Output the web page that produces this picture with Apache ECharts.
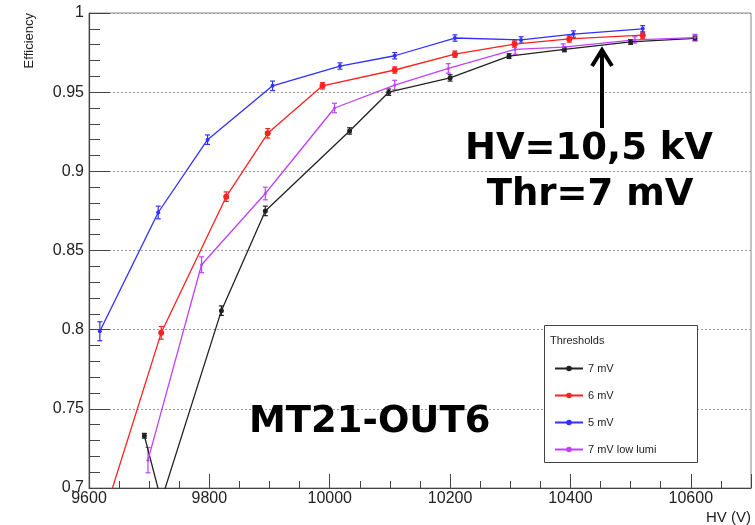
<!DOCTYPE html>
<html>
<head>
<meta charset="utf-8">
<script src="https://cdn.jsdelivr.net/npm/echarts@6/dist/echarts.min.js"></script>
<style>html,body{margin:0;padding:0;background:#fff}#c{width:755px;height:525px}</style>
</head>
<body>
<div id="c"></div>
<script>
// ---- data ----
var seriesNames = ['7 mV', '6 mV', '5 mV', '7 mV low lumi'];
var seriesColors = ['#222222', '#ff2020', '#3030ff', '#c040ff'];

var hv7    = [9692, 9720, 9820, 9893, 10033, 10098, 10200, 10298, 10390, 10500, 10607];
var eff7   = [0.733, 0.692, 0.812, 0.875, 0.9255, 0.950, 0.959, 0.9728, 0.977, 0.9817, 0.984];
var err7   = [0.0015, 0.002, 0.003, 0.003, 0.002, 0.002, 0.002, 0.0015, 0.0015, 0.0015, 0.0015];

var hv6    = [9620, 9720, 9828, 9897, 9988, 10108, 10208, 10307, 10398, 10520];
var eff6   = [0.677, 0.798, 0.884, 0.924, 0.954, 0.964, 0.974, 0.9804, 0.9836, 0.986];
var err6   = [0.004, 0.004, 0.003, 0.003, 0.002, 0.002, 0.002, 0.002, 0.002, 0.002];

var hv5    = [9618, 9715, 9797, 9905, 10017, 10108, 10208, 10318, 10405, 10520];
var eff5   = [0.799, 0.874, 0.920, 0.954, 0.9665, 0.973, 0.9842, 0.983, 0.9867, 0.990];
var err5   = [0.006, 0.004, 0.003, 0.003, 0.002, 0.002, 0.002, 0.002, 0.002, 0.002];

var hv7low  = [9698, 9787, 9893, 10008, 10108, 10197, 10308, 10388, 10507, 10607];
var eff7low = [0.7176, 0.841, 0.886, 0.940, 0.9545, 0.965, 0.977, 0.9785, 0.983, 0.9845];
var err7low = [0.008, 0.005, 0.004, 0.003, 0.003, 0.003, 0.003, 0.002, 0.002, 0.002];

var xMin = 9600, xMax = 10700, xStep = 200;
var yMin = 0.7, yMax = 1, yStep = 0.05;

var legendTitle = 'Thresholds';
var annotation1 = 'HV=10,5 kV';
var annotation2 = 'Thr=7 mV';
var chamberLabel = 'MT21-OUT6';
var xName = 'HV (V)';
var yName = 'Efficiency';

// ---- build ----
var allX = [hv7, hv6, hv5, hv7low];
var allY = [eff7, eff6, eff5, eff7low];
var allE = [err7, err6, err5, err7low];
var symSizes = [5, 6, 4, 3];
var SANS = '"Liberation Sans", Arial, Helvetica, sans-serif';
var BOLD = '"DejaVu Sans", Verdana, sans-serif';

function zip(xs, ys) { return xs.map(function (x, i) { return [x, ys[i]]; }); }
function zipErr(xs, ys, es) { return xs.map(function (x, i) { return [x, ys[i], es[i]]; }); }

var series = [];
seriesNames.forEach(function (name, k) {
  series.push({
    name: name,
    type: 'line',
    data: zip(allX[k], allY[k]),
    clip: true,
    symbol: 'circle',
    symbolSize: symSizes[k],
    showAllSymbol: true,
    lineStyle: { color: seriesColors[k], width: 1.3 },
    itemStyle: { color: seriesColors[k] },
    z: 3
  });
  series.push({
    name: name + ' err',
    type: 'custom',
    clip: true,
    data: zipErr(allX[k], allY[k], allE[k]),
    renderItem: function (params, api) {
      var x = api.value(0), y = api.value(1), e = api.value(2);
      var top = api.coord([x, y + e]);
      var bot = api.coord([x, y - e]);
      var c = seriesColors[k];
      var w = 2.5;
      return {
        type: 'group',
        children: [
          { type: 'line', shape: { x1: top[0], y1: top[1], x2: bot[0], y2: bot[1] }, style: { stroke: c, lineWidth: 1.2 } },
          { type: 'line', shape: { x1: top[0] - w, y1: top[1], x2: top[0] + w, y2: top[1] }, style: { stroke: c, lineWidth: 1.2 } },
          { type: 'line', shape: { x1: bot[0] - w, y1: bot[1], x2: bot[0] + w, y2: bot[1] }, style: { stroke: c, lineWidth: 1.2 } }
        ]
      };
    },
    z: 3
  });
});

var chart = echarts.init(document.getElementById('c'), null, { renderer: 'canvas' });
chart.setOption({
  animation: false,
  backgroundColor: '#ffffff',
  grid: { left: 89, top: 13, right: 4, bottom: 37, show: true, borderColor: '#888', borderWidth: 1 },
  xAxis: {
    type: 'value', min: xMin, max: xMax, interval: xStep,
    axisLine: { lineStyle: { color: '#444', width: 1.2 } },
    axisTick: { inside: true, length: 14, lineStyle: { color: '#444' } },
    minorTick: { show: true, splitNumber: 4, length: 7, lineStyle: { color: '#444' } },
    axisLabel: { margin: 3, fontSize: 16, color: '#222', fontFamily: SANS, showMaxLabel: false,
      formatter: function (v) { return String(v); } },
    splitLine: { show: false },
    name: xName, nameLocation: 'end', nameGap: 0,
    nameTextStyle: { fontSize: 15, color: '#222', fontFamily: SANS, align: 'right', verticalAlign: 'top', padding: [22, 0, 0, 0] }
  },
  yAxis: {
    type: 'value', min: yMin, max: yMax, interval: yStep,
    axisLine: { show: true, lineStyle: { color: '#444', width: 1.2 } },
    axisTick: { inside: true, length: 21, lineStyle: { color: '#444' } },
    minorTick: { show: true, splitNumber: 5, length: 11, lineStyle: { color: '#444' } },
    axisLabel: { margin: 5, fontSize: 16, color: '#222', fontFamily: SANS,
      formatter: function (v) { return String(Math.round(v * 100) / 100); } },
    splitLine: { show: true, lineStyle: { color: '#999', type: [2, 2], width: 1 } }
  },
  legend: {
    data: seriesNames,
    orient: 'vertical', left: 549, top: 358,
    itemWidth: 28, itemHeight: 7, itemGap: 16,
    textStyle: { fontSize: 11, color: '#222', fontFamily: SANS },
    z: 5
  },
  graphic: [
    { type: 'rect', z: 4, shape: { x: 544.5, y: 325.5, width: 153, height: 137 }, style: { fill: '#fff', stroke: '#444', lineWidth: 1 } },
    { type: 'text', z: 5, x: 550, y: 341, style: { text: legendTitle, fontSize: 11, fill: '#222', fontFamily: SANS, verticalAlign: 'middle' } },
    { type: 'text', z: 5, x: 29, y: 13, rotation: Math.PI / 2, style: { text: yName, fontSize: 13, fill: '#222', fontFamily: SANS, align: 'right', verticalAlign: 'middle' } },
    { type: 'polyline', z: 5, shape: { points: [[602, 128], [602, 52]] }, style: { stroke: '#000', lineWidth: 4, fill: null } },
    { type: 'polyline', z: 5, shape: { points: [[592, 66], [602, 50], [612, 66]] }, style: { stroke: '#000', lineWidth: 4, fill: null, lineJoin: 'miter' } },
    { type: 'text', z: 5, x: 589, y: 168, style: { text: annotation1, fontSize: 37, fontWeight: 'bold', fill: '#000', fontFamily: BOLD, align: 'center', verticalAlign: 'bottom' } },
    { type: 'text', z: 5, x: 590, y: 214, style: { text: annotation2, fontSize: 37, fontWeight: 'bold', fill: '#000', fontFamily: BOLD, align: 'center', verticalAlign: 'bottom' } },
    { type: 'text', z: 5, x: 249, y: 441, style: { text: chamberLabel, fontSize: 37, fontWeight: 'bold', fill: '#000', fontFamily: BOLD, align: 'left', verticalAlign: 'bottom' } }
  ],
  series: series
});
</script>
</body>
</html>
